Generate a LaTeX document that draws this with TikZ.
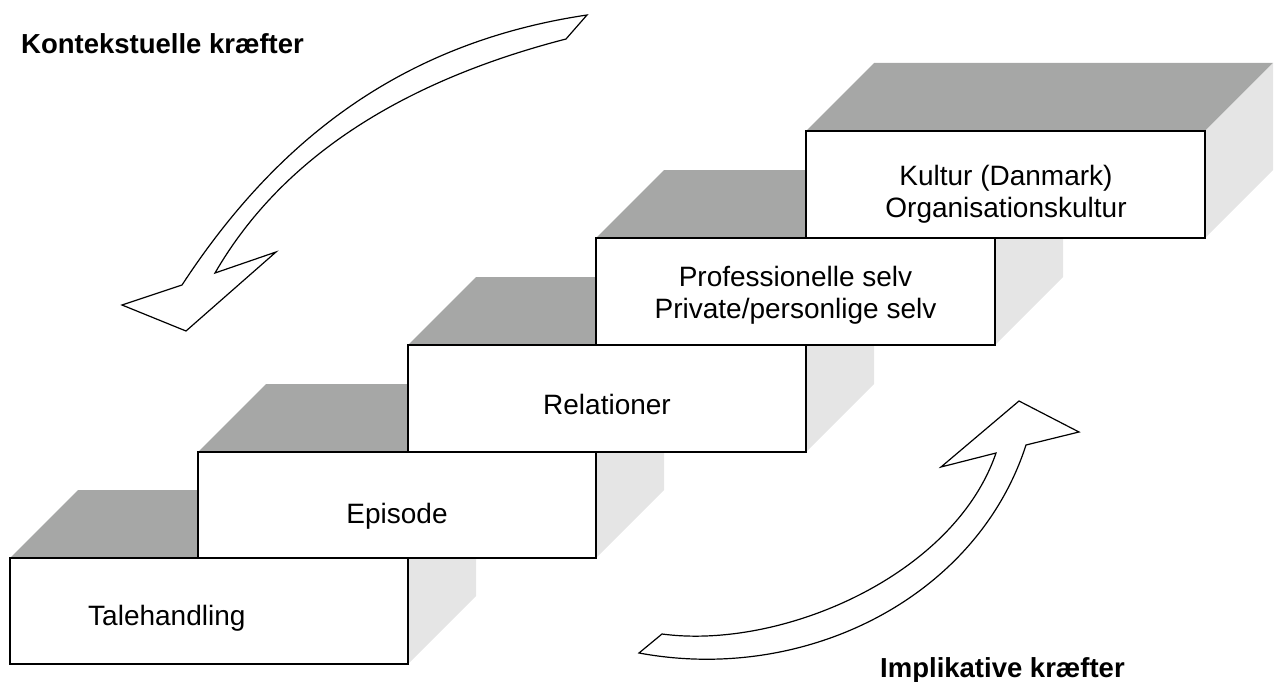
\documentclass[tikz,border=0pt]{standalone}
\usepackage{fontspec}
\setmainfont{Liberation Sans}
\begin{document}
\begin{tikzpicture}[x=1pt,y=-1pt,
  topface/.style={fill=topgray},
  sideface/.style={fill=sidegray},
  frontface/.style={draw=black,fill=white,line width=1.8pt},
  lbl/.style={inner sep=0pt,font=\fontsize{28}{32}\selectfont},
  boldlbl/.style={inner sep=0pt,font=\fontsize{27.5}{32}\selectfont\bfseries},
  blockarrow/.style={draw=black,fill=white,line width=1.2pt,line join=miter}]
\definecolor{topgray}{RGB}{166,167,166}
\definecolor{sidegray}{RGB}{229,229,229}
\useasboundingbox (0,0) rectangle (1277,682);
% steps, from the lowest to the highest
\fill[topface] (10,558) -- (78,490) -- (476,490) -- (408,558) -- cycle;
\fill[sideface] (408,558) -- (476,490) -- (476,596) -- (408,664) -- cycle;
\draw[frontface] (10,558) rectangle (408,664);
\fill[topface] (198,452) -- (266,384) -- (664,384) -- (596,452) -- cycle;
\fill[sideface] (596,452) -- (664,384) -- (664,490) -- (596,558) -- cycle;
\draw[frontface] (198,452) rectangle (596,558);
\fill[topface] (408,345) -- (476,277) -- (874,277) -- (806,345) -- cycle;
\fill[sideface] (806,345) -- (874,277) -- (874,384) -- (806,452) -- cycle;
\draw[frontface] (408,345) rectangle (806,452);
\fill[topface] (596,238) -- (664,170) -- (1063,170) -- (995,238) -- cycle;
\fill[sideface] (995,238) -- (1063,170) -- (1063,277) -- (995,345) -- cycle;
\draw[frontface] (596,238) rectangle (995,345);
\fill[topface] (806,131) -- (874,63) -- (1273,63) -- (1205,131) -- cycle;
\fill[sideface] (1205,131) -- (1273,63) -- (1273,170) -- (1205,238) -- cycle;
\draw[frontface] (806,131) rectangle (1205,238);
% texts
\node[lbl,anchor=base west] (t1) at (88,625) {Talehandling};
\node[lbl,anchor=base] (t2) at (397,523) {Episode};
\node[lbl,anchor=base] (t3) at (607,414) {Relationer};
\node[lbl,align=center] (t4) at (795.5,295) {Professionelle selv\\Private/personlige selv};
\node[lbl,align=center] (t5) at (1006,194) {Kultur (Danmark)\\Organisationskultur};
\node[boldlbl,anchor=base west] (kk) at (21,54) {Kontekstuelle kræfter};
\node[boldlbl,anchor=base west] (ik) at (880,677) {Implikative kræfter};
% block arrows
\draw[blockarrow] (587,15) .. controls (399,43) and (275,143) .. (182,285)
  -- (122,305) -- (186,331) -- (276,252) -- (215,273)
  .. controls (285,152) and (411,79) .. (566,39) -- cycle;
\draw[blockarrow] (662,634) .. controls (781,650) and (954,576) .. (996,453)
  -- (941,467) -- (1019,401) -- (1079,432) -- (1026,445)
  .. controls (977,597) and (806,684) .. (639,653) -- cycle;
\end{tikzpicture}
\end{document}
